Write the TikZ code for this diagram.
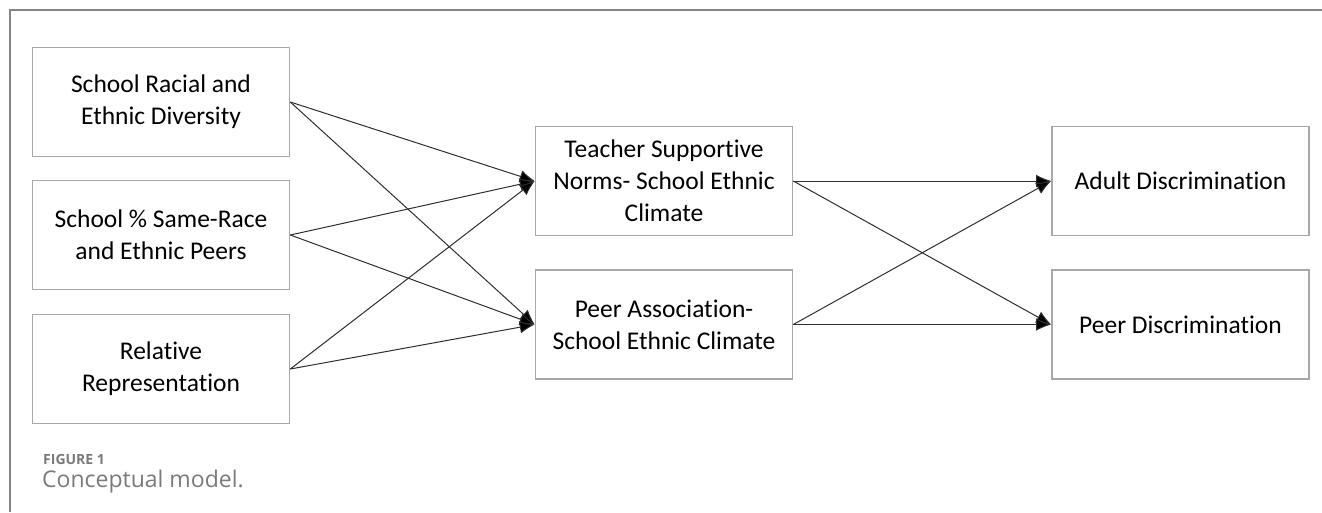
\documentclass[tikz,border=0pt]{standalone}
\usepackage{fontspec}
\setmainfont{Carlito}[Ligatures=NoCommon]
\newfontfamily\capfont{Open Sans}
\usetikzlibrary{arrows.meta}
\definecolor{framegray}{HTML}{858585}
\definecolor{boxgray}{HTML}{A8A8A8}
\definecolor{linegray}{HTML}{2E2E2E}
\definecolor{capgray}{HTML}{7A7A7A}
\begin{document}
\begin{tikzpicture}[x=1pt,y=-1pt,
	varbox/.style={draw=boxgray,line width=1.6pt,minimum width=257pt,minimum height=109pt,inner sep=0pt,align=center,font=\fontsize{25.5}{32}\selectfont},
	path/.style={draw=linegray,line width=1pt,-{Latex[length=15pt,width=12.5pt,fill=black]}}]
	\useasboundingbox (0,0) rectangle (1322,512);
	\draw[framegray,line width=1.8pt] (1322,10) -- (10,10) -- (10,512);
	% exogenous school measures
	\node[varbox] (srd) at (161,102) {School Racial and\\Ethnic Diversity};
	\node[varbox] (ssr) at (161,235) {School \% Same-Race\\and Ethnic Peers};
	\node[varbox] (rr) at (161,369) {Relative\\Representation};
	% climate mediators
	\node[varbox] (tsn) at (664,181) {Teacher Supportive\\Norms- School Ethnic\\Climate};
	\node[varbox] (pa) at (664,324.5) {Peer Association-\\School Ethnic Climate};
	% outcomes
	\node[varbox] (ad) at (1180.5,181) {Adult Discrimination};
	\node[varbox] (pd) at (1180.5,324.5) {Peer Discrimination};
	\foreach \s in {srd,ssr,rr}{
		\draw[path] (\s.east) -- (tsn.west);
		\draw[path] (\s.east) -- (pa.west);
	}
	\foreach \s in {tsn,pa}{
		\draw[path] (\s.east) -- (ad.west);
		\draw[path] (\s.east) -- (pd.west);
	}
	\node[anchor=base west,inner sep=0pt,text=capgray,font=\capfont\bfseries\fontsize{14}{16}\selectfont] (fig) at (43,464) {FIGURE 1};
	\node[anchor=base west,inner sep=0pt,text=capgray,font=\capfont\fontsize{23}{26}\selectfont] (cap) at (42,487) {Conceptual model.};
\end{tikzpicture}
\end{document}
